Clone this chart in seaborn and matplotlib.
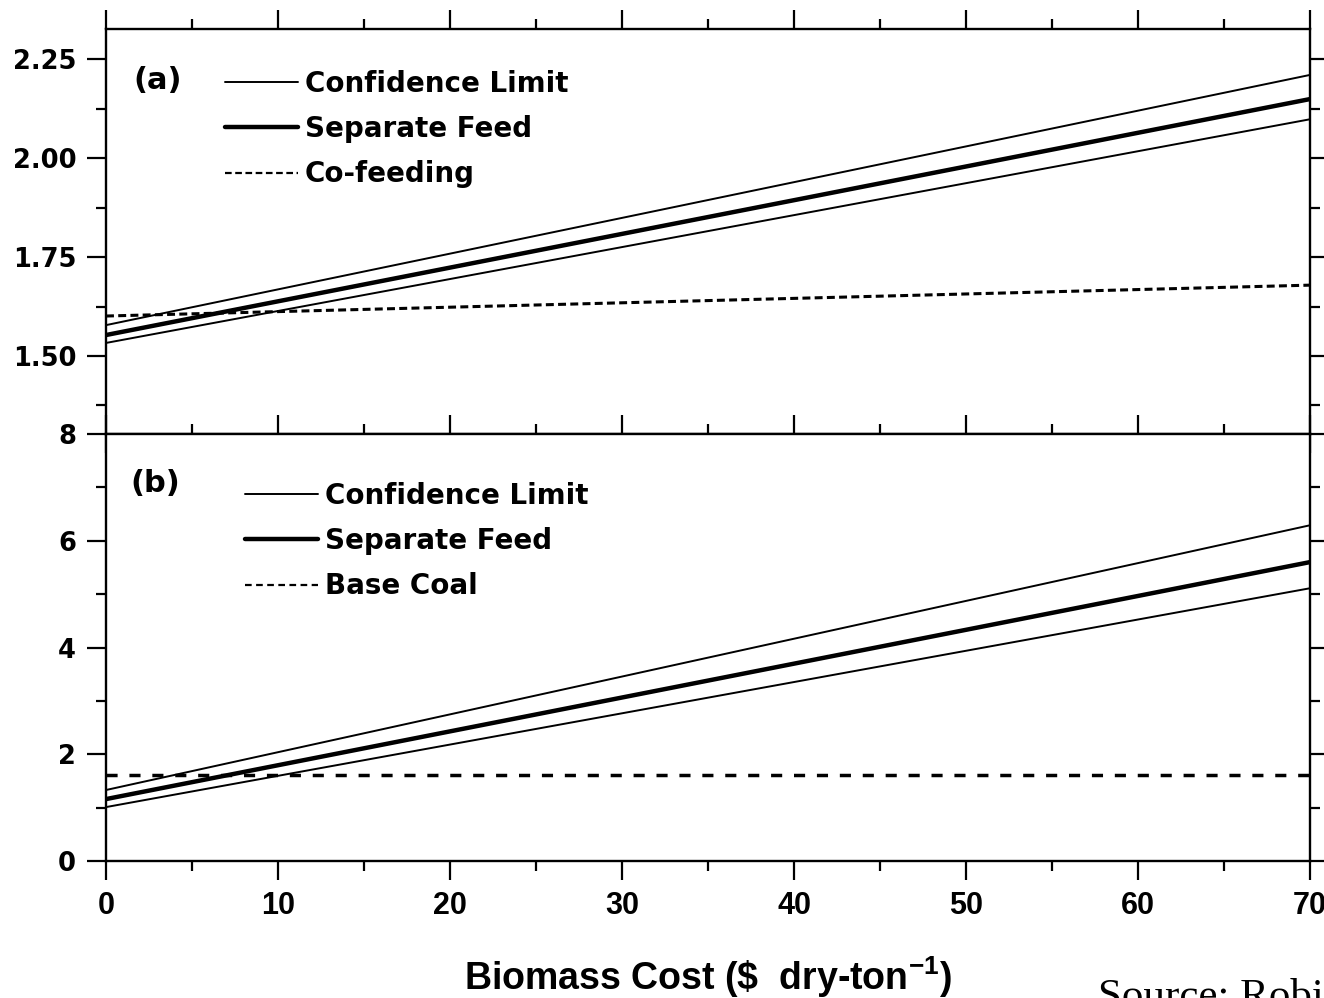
import matplotlib
matplotlib.use("Agg")
import matplotlib.pyplot as plt
import seaborn as sns
import pandas as pd
from matplotlib.ticker import MultipleLocator, FormatStrFormatter
from matplotlib.lines import Line2D
from matplotlib.font_manager import FontProperties

# Biomass cost ($ per dry ton)
cost = [0, 70]

# Panel (a)
a_conf_upper = [1.578, 2.210]
a_separate = [1.553, 2.149]
a_conf_lower = [1.533, 2.098]
a_cofeed = [1.601, 1.679]

# Panel (b)
b_conf_upper = [1.33, 6.29]
b_separate = [1.16, 5.60]
b_conf_lower = [1.01, 5.11]
b_base_coal = [1.61, 1.61]

legend_a = ["Confidence Limit", "Separate Feed", "Co-feeding"]
legend_b = ["Confidence Limit", "Separate Feed", "Base Coal"]

sns.set_style("ticks")
plt.rcParams["font.family"] = ["Liberation Sans", "DejaVu Sans"]
plt.rcParams["mathtext.fontset"] = "custom"
plt.rcParams["mathtext.rm"] = "Liberation Sans"
plt.rcParams["mathtext.bf"] = "Liberation Sans:bold"
for key in ["text.color", "axes.labelcolor", "xtick.color", "ytick.color", "axes.edgecolor"]:
    plt.rcParams[key] = "black"

W, H = 1324, 998
fig = plt.figure(figsize=(W / 100, H / 100), dpi=100)
fig.patch.set_facecolor("white")

left, right = 106, 1310
top_a, bot_a, bot_b = 29, 434, 861
ax_a = fig.add_axes([left / W, 1 - bot_a / H, (right - left) / W, (bot_a - top_a) / H])
ax_b = fig.add_axes([left / W, 1 - bot_b / H, (right - left) / W, (bot_b - bot_a) / H])

THIN, THICK = 1.4, 3.2
df_a = pd.DataFrame({"cost": cost, "up": a_conf_upper, "sep": a_separate,
                     "lo": a_conf_lower, "co": a_cofeed})
df_b = pd.DataFrame({"cost": cost, "up": b_conf_upper, "sep": b_separate,
                     "lo": b_conf_lower, "base": b_base_coal})

for ax, df, ref, ref_lw, ref_dash in [
    (ax_a, df_a, "co", 2.2, (2.6, 1.4)),
    (ax_b, df_b, "base", 2.5, (3.2, 3.4)),
]:
    sns.lineplot(data=df, x="cost", y="up", ax=ax, color="black", lw=THIN, legend=False)
    sns.lineplot(data=df, x="cost", y="lo", ax=ax, color="black", lw=THIN, legend=False)
    sns.lineplot(data=df, x="cost", y="sep", ax=ax, color="black", lw=THICK, legend=False)
    sns.lineplot(data=df, x="cost", y=ref, ax=ax, color="black", lw=ref_lw, legend=False)
    ax.lines[-1].set_dashes(ref_dash)
    ax.set_xlim(0, 70)
    ax.set_xlabel("")
    ax.set_ylabel("")
    ax.xaxis.set_major_locator(MultipleLocator(10))
    ax.xaxis.set_minor_locator(MultipleLocator(5))
    for s in ax.spines.values():
        s.set_visible(True)
        s.set_linewidth(1.7)
        s.set_color("black")
    ax.tick_params(which="both", direction="out", top=True, right=True,
                   left=True, bottom=True, width=1.6, color="black")
    ax.tick_params(which="major", length=13.5, pad=8)
    ax.tick_params(which="minor", length=7)
    ax.set_facecolor("white")

ax_a.set_ylim(1.303, 2.326)
ax_a.yaxis.set_major_locator(MultipleLocator(0.25))
ax_a.yaxis.set_minor_locator(MultipleLocator(0.125))
ax_a.yaxis.set_major_formatter(FormatStrFormatter("%.2f"))
ax_a.tick_params(labelbottom=False)

ax_b.set_ylim(0, 8)
ax_b.yaxis.set_major_locator(MultipleLocator(2))
ax_b.yaxis.set_minor_locator(MultipleLocator(1))

for ax in (ax_a, ax_b):
    for t in ax.get_yticklabels():
        t.set_fontproperties(FontProperties(family="DejaVu Sans", weight="bold", size=18.5))
        t.set_color("black")
for t in ax_b.get_xticklabels():
    t.set_fontproperties(FontProperties(family="Liberation Sans", weight="bold", size=22))
    t.set_color("black")

ax_b.set_xlabel(r"Biomass Cost (\$  dry-ton$^{\mathbf{-1}}$)",
                fontsize=27, fontweight="bold", labelpad=24, color="black")

leg_font = FontProperties(family="DejaVu Sans", weight="bold", size=20)

def add_legend(ax, labels, ref_lw, ref_dash, anchor):
    handles = [
        Line2D([], [], color="black", lw=THIN),
        Line2D([], [], color="black", lw=THICK),
        Line2D([], [], color="black", lw=ref_lw, dashes=ref_dash),
    ]
    leg = ax.legend(handles, labels, loc="upper left", bbox_to_anchor=anchor,
                    frameon=False, prop=leg_font, handlelength=2.63,
                    handletextpad=0.25, labelspacing=0.62, borderpad=0,
                    borderaxespad=0)
    for t in leg.get_texts():
        t.set_color("black")

add_legend(ax_a, legend_a, 1.6, (3.0, 1.6), (0.0988, 0.899))
add_legend(ax_b, legend_b, 1.6, (3.0, 2.0), (0.1154, 0.888))

panel_font = dict(family="DejaVu Sans", weight="bold", size=22, color="black")
ax_a.text(0.0224, 0.874, "(a)", transform=ax_a.transAxes, va="center", ha="left", **panel_font)
ax_b.text(0.0199, 0.883, "(b)", transform=ax_b.transAxes, va="center", ha="left", **panel_font)

fig.text(1098 / W, 1 - 1008 / H, "Source: Robinson et al.", family="Liberation Serif",
         fontsize=31, ha="left", va="baseline", color="black")

fig.savefig("out.png", dpi=100, facecolor="white")
